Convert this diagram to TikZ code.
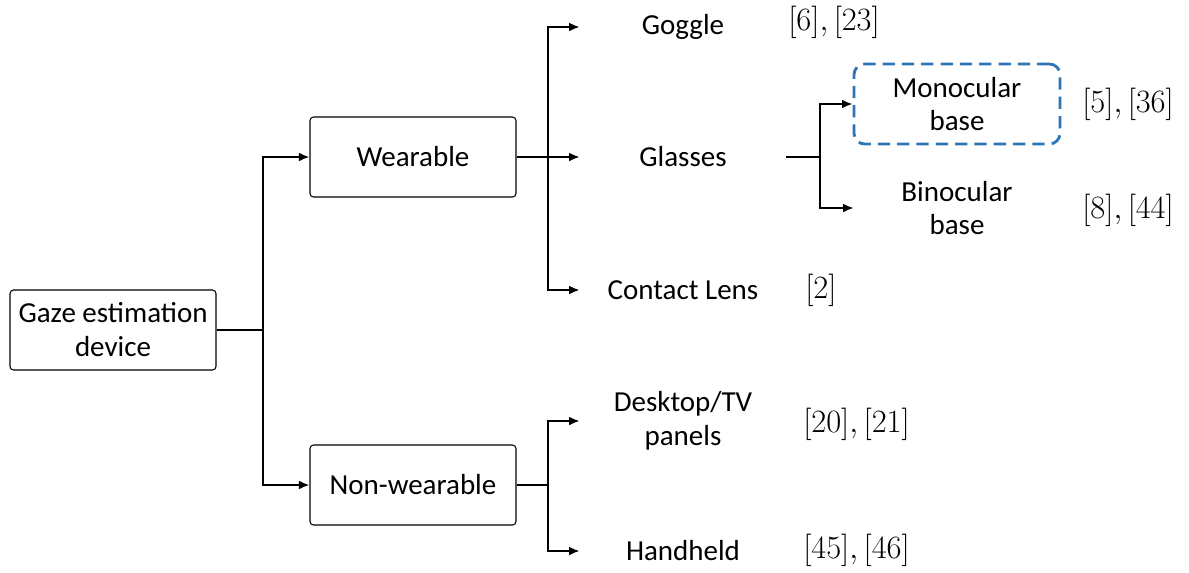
\RequirePackage{fix-cm}
\documentclass[tikz,border=0pt]{standalone}
\usepackage{fontspec}
\setmainfont{Carlito}
\usetikzlibrary{arrows.meta}

\tikzset{
  item/.style={minimum width=4.12cm, minimum height=1.6cm, align=center, inner sep=0pt,
    font=\fontsize{16.5}{19.3}\selectfont},
  catbox/.style={item, draw, line width=0.6pt, rounded corners=2pt},
  focusbox/.style={item, draw=focusblue, line width=1.6pt, dash pattern=on 7pt off 4pt, rounded corners=6pt},
  cite/.style={anchor=west, inner sep=0pt, font=\fontsize{18.5}{21}\selectfont},
  link/.style={line width=1.1pt},
  branch/.style={link, -{Latex[length=6pt,width=5pt]}}
}
\definecolor{focusblue}{RGB}{46,117,182}

\begin{document}
\begin{tikzpicture}[x=0.02cm, y=-0.02cm]
      \useasboundingbox (0,0) rectangle (1189,572);
      % categories
      \node[catbox] (root) at (113,330) {Gaze estimation\\device};
      \node[catbox] (wear) at (413,157) {Wearable};
      \node[catbox] (nonwear) at (413,485) {Non-wearable};
      % leaves
      \node[item] (goggle) at (683,27) {Goggle};
      \node[item] (glasses) at (683,157) {Glasses};
      \node[item] (lens) at (683,290) {Contact Lens};
      \node[item] (desk) at (683,421) {Desktop/TV\\panels};
      \node[item] (hand) at (683,551) {Handheld};
      \node[focusbox] (mono) at (957,104) {Monocular\\base};
      \node[item] (bino) at (957,208) {Binocular\\base};
      % references
      \node[cite] (c1) at (788,22) {$[6], [23]$};
      \node[cite] (c2) at (805,290) {$[2]$};
      \node[cite] (c3) at (1082,104) {$[5], [36]$};
      \node[cite] (c4) at (1082,210) {$[8], [44]$};
      \node[cite] (c5) at (803,424) {$[20], [21]$};
      \node[cite] (c6) at (803,550) {$[45], [46]$};
      % junctions
      \coordinate (j0) at (263,330);
      \coordinate (j1) at (548,157);
      \coordinate (j2) at (548,485);
      \coordinate (j3) at (820,157);
      \draw[link] (root.east) -- (j0);
      \draw[branch] (j0) |- (wear.west);
      \draw[branch] (j0) |- (nonwear.west);
      \draw[link] (wear.east) -- (j1);
      \draw[branch] (j1) |- (goggle.west);
      \draw[branch] (j1) -- (glasses.west);
      \draw[branch] (j1) |- (lens.west);
      \draw[link] (nonwear.east) -- (j2);
      \draw[branch] (j2) |- (desk.west);
      \draw[branch] (j2) |- (hand.west);
      \draw[link] (glasses.east) -- (j3);
      \draw[branch] (j3) |- (mono.west);
      \draw[branch] (j3) |- (bino.west);
    \end{tikzpicture}
\end{document}
